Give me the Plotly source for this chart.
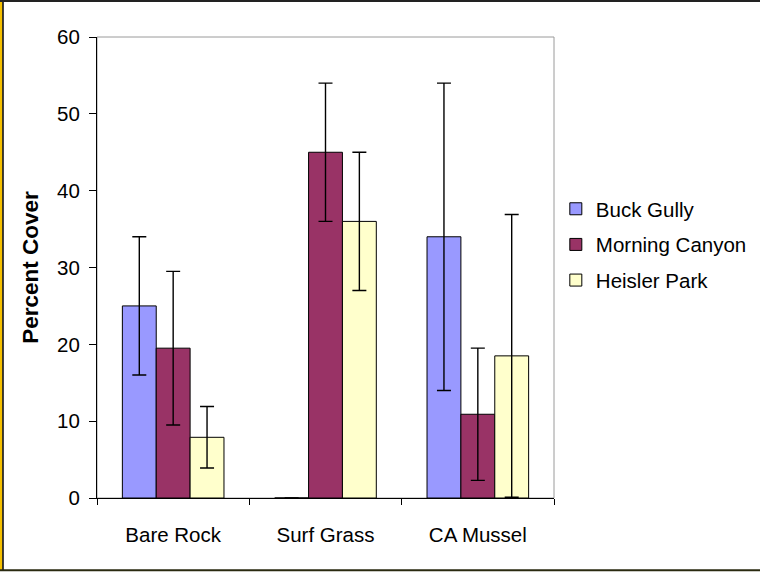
import plotly.graph_objects as go

categories = ["Bare Rock", "Surf Grass", "CA Mussel"]
series_names = ["Buck Gully", "Morning Canyon", "Heisler Park"]
buck_gully = [25.0, 0.0, 34.0]
buck_gully_err = [9.0, 0.0, 20.0]
morning_canyon = [19.5, 45.0, 10.9]
morning_canyon_err = [10.0, 9.0, 8.6]
heisler_park = [7.9, 36.0, 18.5]
heisler_park_err = [4.0, 9.0, 18.4]
y_ticks = [0, 10, 20, 30, 40, 50, 60]

colors = ["#9999FF", "#993366", "#FFFFCC"]
values = [buck_gully, morning_canyon, heisler_park]
errors = [buck_gully_err, morning_canyon_err, heisler_park_err]

FONT = "Liberation Sans, Arial, sans-serif"

fig = go.Figure()
for name, vals, errs, col in zip(series_names, values, errors, colors):
    fig.add_trace(go.Bar(
        x=categories, y=vals, name=name, legendgroup=name,
        marker=dict(color=col, line=dict(color="#000000", width=1)),
        error_y=dict(type="data", array=errs, visible=True,
                     color="#000000", thickness=1.4, width=7),
    ))

# plot-area frame (top/right grey)
fig.add_shape(type="rect", xref="paper", yref="paper", x0=0, x1=1, y0=0, y1=1,
              line=dict(color="#9a9a9a", width=1), layer="below")
# outer chart border
L, T, B, R = -0.2057, 1.078, -0.1568, 1.452
fig.add_shape(type="rect", xref="paper", yref="paper", x0=-0.2124, x1=-0.2068, y0=B, y1=T,
              line=dict(width=0), fillcolor="#F5C000")
fig.add_shape(type="line", xref="paper", yref="paper", x0=L, x1=L, y0=B, y1=T,
              line=dict(color="#000000", width=1.5))
fig.add_shape(type="line", xref="paper", yref="paper", x0=-0.22, x1=R, y0=T, y1=T,
              line=dict(color="#222222", width=2))
fig.add_shape(type="line", xref="paper", yref="paper", x0=-0.22, x1=R, y0=B, y1=B,
              line=dict(color="#2a2a10", width=2))

fig.update_layout(
    width=760, height=572,
    margin=dict(l=97, r=206, t=37, b=74, autoexpand=False),
    paper_bgcolor="#FFFFFF", plot_bgcolor="#FFFFFF",
    barmode="group", bargap=0.333, bargroupgap=0,
    font=dict(family=FONT, size=20.5, color="#000000"),
    showlegend=True,
    legend=dict(x=1.004, y=0.55, xanchor="left", yanchor="middle",
                traceorder="grouped", tracegroupgap=6, itemwidth=30,
                font=dict(family=FONT, size=20.5, color="#000000"),
                bgcolor="rgba(0,0,0,0)"),
    xaxis=dict(showline=True, linecolor="#000000", linewidth=1,
               ticks="outside", tickson="boundaries", ticklen=6, tickcolor="#000000",
               ticklabelstandoff=18,
               showgrid=False, tickfont=dict(size=20.5), fixedrange=True),
    yaxis=dict(range=[0, 60], tickvals=y_ticks, showline=True, linecolor="#000000",
               linewidth=1, ticks="outside", ticklen=7, tickcolor="#000000",
               ticklabelstandoff=5,
               showgrid=False, zeroline=False, tickfont=dict(size=20.5),
               title=dict(text="<b>Percent Cover</b>", font=dict(size=22.5), standoff=12)),
)

fig.write_html("out.html", config={"displayModeBar": False},
               post_script="document.body.style.margin='0';document.body.style.overflow='hidden';")
